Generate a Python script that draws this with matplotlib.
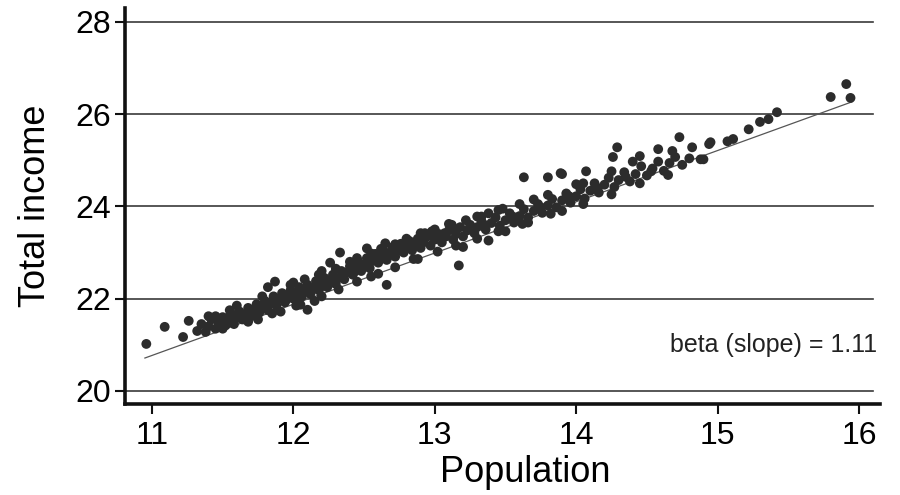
import matplotlib
matplotlib.use("Agg")
import matplotlib.pyplot as plt

plt.rcParams['font.family'] = ['Liberation Sans', 'DejaVu Sans']

# Labels
X_LABEL = "Population"
Y_LABEL = "Total income"
NOTE = "beta (slope) = 1.11"

x_ticks = [11, 12, 13, 14, 15, 16]
y_ticks = [20, 22, 24, 26, 28]

# Fitted line
fit_slope = 1.11
fit_intercept = 8.56
fit_x = [10.95, 15.95]

# Scatter points (log population, log income)
pop = [
    10.96, 11.09, 11.22, 11.26, 11.87, 12.00, 11.91, 12.03,
    12.33, 12.52, 12.26, 12.66, 12.10, 12.05, 12.98,
    13.63, 13.89, 13.80, 13.17, 13.38, 13.66, 13.33, 13.58,
    14.29, 14.73, 14.95, 14.88, 14.45, 14.07, 14.26, 14.58, 14.53, 14.68, 14.82, 13.90,
    15.91, 15.80, 15.94, 15.42, 15.36, 15.30, 15.22, 15.11, 15.07, 14.94, 14.90,
    11.32, 11.35, 11.38, 11.40, 11.42, 11.45, 11.47, 11.50, 11.52, 11.54,
    11.56, 11.58, 11.60, 11.62, 11.64, 11.66, 11.68, 11.70, 11.72, 11.74,
    11.76, 11.78, 11.80, 11.82, 11.84, 11.86, 11.88, 11.90, 11.92, 11.94,
    11.96, 11.98, 12.00, 12.02, 12.04, 12.06, 12.08, 12.10, 12.12, 12.14,
    12.16, 12.18, 12.20, 12.22, 12.24, 12.26, 12.28, 12.30, 12.32, 12.34,
    12.36, 12.38, 12.40, 12.42, 12.44, 12.46, 12.48, 12.50, 12.52, 12.54,
    12.56, 12.58, 12.60, 12.62, 12.64, 12.66, 12.68, 12.70, 12.72, 12.74,
    12.76, 12.78, 12.80, 12.82, 12.84, 12.86, 12.88, 12.90, 12.92, 12.95,
    12.97, 13.00, 13.03, 13.05, 13.08, 13.10, 13.13, 13.15, 13.18, 13.20,
    13.23, 13.25, 13.28, 13.30, 13.33, 13.36, 13.40, 13.43, 13.46, 13.50,
    13.53, 13.56, 13.60, 13.63, 13.66, 13.70, 13.73, 13.76, 13.80, 13.83,
    13.86, 13.90, 13.93, 13.96, 14.00, 14.03, 14.06, 14.10, 14.13, 14.16,
    14.20, 14.23, 14.27, 14.30, 14.34, 14.38, 14.42, 14.46, 14.50, 14.54,
    14.58, 14.62, 14.66, 14.70, 14.75, 14.80,
    11.55, 11.63, 11.71, 11.79, 11.87, 11.95, 12.03, 12.11, 12.19, 12.27,
    12.35, 12.43, 12.51, 12.59, 12.67, 12.75, 12.83, 12.91, 12.99, 13.07,
    13.15, 13.35, 13.55, 13.75, 13.95, 14.15, 14.35,
    11.45, 11.55, 11.82, 12.20, 12.45, 12.65, 12.90, 13.10, 13.45, 14.00, 14.40,
    11.75, 12.15, 12.55, 12.85, 13.20, 13.50, 13.90,
    11.40, 11.60, 11.78, 11.98, 12.08, 12.18, 12.30, 12.40, 12.55, 12.62,
    12.72, 12.80, 12.93, 13.00, 13.12, 13.22, 13.30, 13.38, 13.48, 13.60,
    13.70, 13.80, 14.05, 14.25,
    11.50, 11.68, 11.85, 12.02, 12.20, 12.32, 12.45, 12.60, 12.72, 12.88,
    13.02, 13.15, 13.30, 13.45, 13.62, 13.82, 14.05, 14.25, 14.45, 14.65,
]
income = [
    21.02, 21.39, 21.17, 21.52, 22.37, 22.35, 21.72, 21.87,
    23.00, 23.09, 22.78, 22.30, 21.76, 21.87, 23.46,
    24.63, 24.72, 24.63, 22.72, 23.26, 23.65, 23.78, 23.76,
    25.28, 25.50, 25.39, 25.02, 25.09, 24.76, 25.07, 25.24, 24.76, 25.20, 25.28, 24.70,
    26.65, 26.37, 26.35, 26.04, 25.89, 25.83, 25.67, 25.46, 25.41, 25.35, 25.02,
    21.30, 21.45, 21.28, 21.40, 21.55, 21.35, 21.48, 21.60, 21.42, 21.52,
    21.68, 21.45, 21.58, 21.72, 21.55, 21.65, 21.80, 21.62, 21.75, 21.88,
    21.70, 21.82, 21.95, 21.75, 21.90, 22.05, 21.85, 22.00, 22.12, 21.92,
    22.05, 22.18, 22.00, 22.12, 22.25, 22.05, 22.18, 22.30, 22.10, 22.22,
    22.38, 22.18, 22.32, 22.45, 22.25, 22.40, 22.52, 22.32, 22.45, 22.60,
    22.42, 22.57, 22.70, 22.52, 22.66, 22.80, 22.60, 22.74, 22.88, 22.66,
    22.82, 22.97, 22.78, 22.90, 23.03, 22.84, 22.97, 23.11, 22.91, 23.04,
    23.19, 23.00, 23.12, 23.25, 23.05, 23.18, 23.30, 23.10, 23.22, 23.35,
    23.15, 23.28, 23.40, 23.22, 23.35, 23.48, 23.28, 23.40, 23.55, 23.35,
    23.48, 23.60, 23.42, 23.55, 23.68, 23.50, 23.64, 23.76, 23.58, 23.70,
    23.85, 23.65, 23.79, 23.94, 23.76, 23.90, 24.05, 23.86, 24.02, 24.16,
    23.98, 24.13, 24.28, 24.08, 24.22, 24.37, 24.17, 24.34, 24.50, 24.30,
    24.47, 24.62, 24.42, 24.57, 24.74, 24.54, 24.70, 24.87, 24.67, 24.82,
    24.97, 24.77, 24.94, 25.07, 24.90, 25.04,
    21.62, 21.62, 21.70, 21.88, 21.95, 21.98, 22.05, 22.20, 22.25, 22.35,
    22.52, 22.58, 22.74, 22.84, 22.92, 23.08, 23.14, 23.28, 23.38, 23.42,
    23.50, 23.60, 23.78, 23.98, 24.22, 24.40, 24.64,
    21.62, 21.75, 22.25, 22.60, 22.88, 23.20, 23.42, 23.62, 23.92, 24.48, 24.97,
    21.55, 21.95, 22.48, 22.86, 23.12, 23.46, 23.90,
    21.62, 21.85, 22.05, 22.30, 22.42, 22.52, 22.65, 22.80, 22.98, 23.08,
    23.18, 23.30, 23.42, 23.50, 23.60, 23.70, 23.78, 23.85, 23.95, 24.05,
    24.15, 24.25, 24.50, 24.76,
    21.35, 21.50, 21.68, 21.85, 22.05, 22.20, 22.37, 22.54, 22.68, 22.86,
    23.02, 23.15, 23.30, 23.46, 23.62, 23.84, 24.05, 24.26, 24.50, 24.68,
]

fig = plt.figure(figsize=(9, 4.95), dpi=100)
ax = fig.add_axes([0.139, 0.184, 0.839, 0.80])

# Horizontal grid lines
for yv in y_ticks:
    ax.axhline(yv, xmax=0.99, color="#3a3a3a", linewidth=1.2, zorder=1)

# Points and fitted line
ax.scatter(pop, income, s=50, color="#2c2c2c", edgecolors="none", zorder=3)
fit_y = [fit_intercept + fit_slope * v for v in fit_x]
ax.plot(fit_x, fit_y, color="#555555", linewidth=0.9, zorder=2)

ax.text(16.13, 21.0, NOTE, ha="right", va="center", fontsize=18, color="#222222")

ax.set_xlim(10.81, 16.15)
ax.set_ylim(19.72, 28.3)
ax.set_xticks(x_ticks)
ax.set_yticks(y_ticks)
ax.tick_params(labelsize=23, length=7, width=1.5, color="#111111")
ax.tick_params(axis="x", pad=5)
ax.tick_params(axis="y", pad=3)

ax.set_xlabel(X_LABEL, fontsize=26)
ax.set_ylabel(Y_LABEL, fontsize=26)
ax.xaxis.set_label_coords(0.53, -0.13)
ax.yaxis.set_label_coords(-0.095, 0.5)

for side in ["top", "right"]:
    ax.spines[side].set_visible(False)
for side in ["left", "bottom"]:
    ax.spines[side].set_linewidth(2.6)
    ax.spines[side].set_color("#111111")

fig.savefig("out.png", dpi=100)
